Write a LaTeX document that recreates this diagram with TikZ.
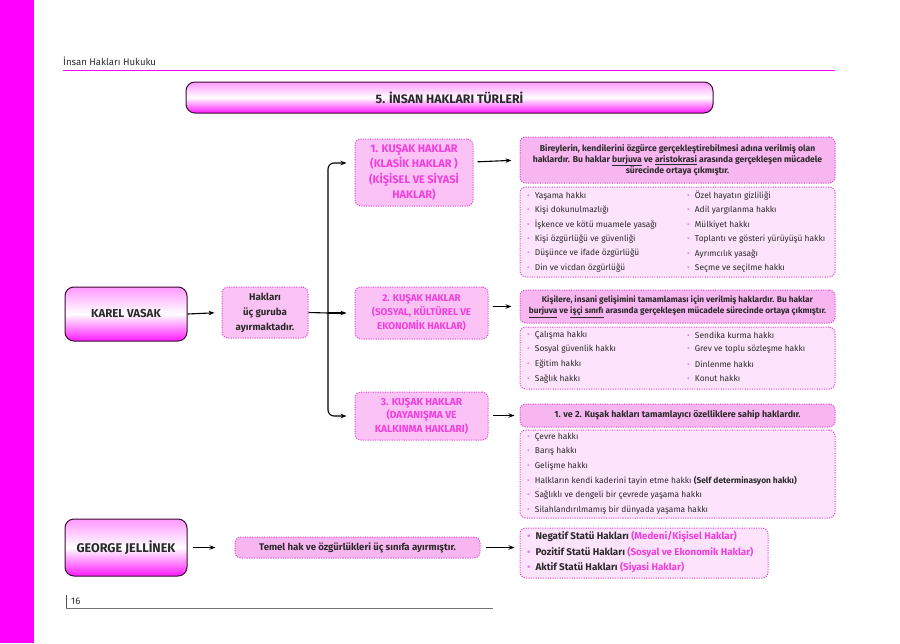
\documentclass[tikz,border=0pt]{standalone}
\usepackage{fontspec}
\setmainfont{Fira Sans}
\usetikzlibrary{arrows.meta}
\definecolor{mag}{HTML}{FF00FF}
\definecolor{kt}{HTML}{F23EDE}
\definecolor{dotc}{HTML}{E24AD4}
\definecolor{kfill}{HTML}{FBC3F5}
\definecolor{dfill}{HTML}{F8B6F0}
\definecolor{lfill}{HTML}{FDE3FB}
\definecolor{bulc}{HTML}{F27FE6}
\definecolor{txt}{HTML}{2A2A2A}
\definecolor{edge}{HTML}{3A0A30}
\newcommand\bul{\textcolor{bulc}{•}\hspace{5pt}}
\tikzset{
  dbox/.style={draw=dotc, dash pattern=on 1.1pt off 1.3pt, line width=1pt, rounded corners=6pt, inner sep=0pt, align=center},
  kbox/.style={dbox, fill=kfill, text=kt, font=\bfseries\fontsize{10}{14}\selectfont},
  descbox/.style={dbox, fill=dfill, text=txt, font=\bfseries\fontsize{8.2}{11}\selectfont},
  listbox/.style={dbox, fill=lfill},
  glossbox/.style={draw=edge, line width=1pt, rounded corners=9pt, inner sep=0pt, top color=mag!40, bottom color=mag!90, middle color=white, text=txt, align=center},
  item/.style={anchor=west, inner sep=0pt, text=txt, font=\fontsize{8.4}{9}\selectfont},
  sitem/.style={item, font=\bfseries\fontsize{9.8}{10}\selectfont},
  arr/.style={-{Stealth[length=6pt,width=4.5pt]}, line width=1.1pt, black},
}
\begin{document}
\begin{tikzpicture}[x=1pt,y=-1pt]
\useasboundingbox (0,0) rectangle (900,643);
\fill[white] (0,0) rectangle (900,643);
\fill[mag] (0,0) rectangle (34,643);
% header
\node[anchor=west, inner sep=0pt, text=txt, font=\fontsize{9.6}{10}\selectfont] (hdr) at (63,61) {İnsan Hakları Hukuku};
\draw[mag, line width=1pt] (63,70) -- (835,70);
% footer
\draw[black!70, line width=1pt] (66,595) -- (66,608);
\draw[black!55, line width=1pt] (66,608) -- (493,608);
\node[anchor=west, inner sep=0pt, text=txt, font=\fontsize{9.5}{10}\selectfont] (pg) at (71,601) {16};
% title
\node[glossbox, minimum width=527pt, minimum height=31pt, font=\bfseries\fontsize{12.3}{14}\selectfont] (title) at (449.5,97.5) {5. İNSAN HAKLARI TÜRLERİ};
% left boxes
\node[glossbox, minimum width=122pt, minimum height=54pt, font=\bfseries\fontsize{11.5}{14}\selectfont] (kv) at (126,314) {KAREL VASAK};
\node[glossbox, minimum width=122pt, minimum height=57pt, font=\bfseries\fontsize{12.6}{14}\selectfont] (gj) at (126,547.5) {GEORGE JELLİNEK};
\node[dbox, fill=kfill, text=txt, font=\bfseries\fontsize{9.7}{15}\selectfont, minimum width=86pt, minimum height=51pt] (hak) at (265,312.5) {Hakları\\üç guruba\\ayırmaktadır.};
% generations
\node[kbox, minimum width=118pt, minimum height=67pt, font=\bfseries\fontsize{11}{15.5}\selectfont] (k1) at (414,172.5) {1. KUŞAK HAKLAR\\(KLASİK HAKLAR )\\(KİŞİSEL VE SİYASİ\\HAKLAR)};
\node[kbox, minimum width=133pt, minimum height=52pt, font=\bfseries\fontsize{9.8}{14}\selectfont] (k2) at (421.5,313) {2. KUŞAK HAKLAR\\(SOSYAL, KÜLTÜREL VE\\EKONOMİK HAKLAR)};
\node[kbox, minimum width=133pt, minimum height=48pt, font=\bfseries\fontsize{10.2}{13.5}\selectfont] (k3) at (421.5,416) {3. KUŞAK HAKLAR\\(DAYANIŞMA VE\\KALKINMA HAKLARI)};
% descriptions
\node[descbox, minimum width=315pt, minimum height=46pt, font=\bfseries\fontsize{8.6}{11}\selectfont] (d1) at (677.5,160) {Bireylerin, kendilerini özgürce gerçekleştirebilmesi adına verilmiş olan\\haklardır. Bu haklar \underline{burjuva} ve \underline{aristokrasi} arasında gerçekleşen mücadele\\sürecinde ortaya çıkmıştır.};
\node[listbox, minimum width=315pt, minimum height=90pt] (l1) at (677.5,232) {};
\node[descbox, minimum width=315pt, minimum height=33pt, font=\bfseries\fontsize{8.3}{11.5}\selectfont] (d2) at (677.5,306.5) {Kişilere, insani gelişimini tamamlaması için verilmiş haklardır. Bu haklar\\\underline{burjuva} ve \underline{işçi sınıfı} arasında gerçekleşen mücadele sürecinde ortaya çıkmıştır.};
\node[listbox, minimum width=315pt, minimum height=62pt] (l2) at (677.5,358) {};
\node[descbox, minimum width=315pt, minimum height=23pt, font=\bfseries\fontsize{8.9}{11}\selectfont] (d3) at (677.5,415.5) {1. ve 2. Kuşak hakları tamamlayıcı özelliklere sahip haklardır.};
\node[listbox, minimum width=315pt, minimum height=88pt] (l3) at (677.5,474) {};
% jellinek
\node[descbox, minimum width=245pt, minimum height=21pt, font=\bfseries\fontsize{9.6}{11}\selectfont] (tm) at (357.5,547.5) {Temel hak ve özgürlükleri üç sınıfa ayırmıştır.};
\node[listbox, minimum width=248pt, minimum height=50pt] (st) at (644,553) {};
% list items
\foreach \t [count=\i from 0] in {Yaşama hakkı, Kişi dokunulmazlığı, İşkence ve kötü muamele yasağı, Kişi özgürlüğü ve güvenliği, Düşünce ve ifade özgürlüğü, Din ve vicdan özgürlüğü}
  \node[item] (l1a\i) at (527,196+14.4*\i) {\bul\t};
\foreach \t [count=\i from 0] in {Özel hayatın gizliliği, Adil yargılanma hakkı, Mülkiyet hakkı, Toplantı ve gösteri yürüyüşü hakkı, Ayrımcılık yasağı, Seçme ve seçilme hakkı}
  \node[item] (l1b\i) at (687,196+14.4*\i) {\bul\t};
\foreach \t [count=\i from 0] in {Çalışma hakkı, Sosyal güvenlik hakkı, Eğitim hakkı, Sağlık hakkı}
  \node[item] (l2a\i) at (527,335+14.6*\i) {\bul\t};
\foreach \t [count=\i from 0] in {Sendika kurma hakkı, Grev ve toplu sözleşme hakkı, Dinlenme hakkı, Konut hakkı}
  \node[item] (l2b\i) at (687,335+14.6*\i) {\bul\t};
\foreach \t [count=\i from 0] in {Çevre hakkı, Barış hakkı, Gelişme hakkı, {Halkların kendi kaderini tayin etme hakkı \textbf{(Self determinasyon hakkı)}}, Sağlıklı ve dengeli bir çevrede yaşama hakkı, Silahlandırılmamış bir dünyada yaşama hakkı}
  \node[item] (l3a\i) at (527,437+14.6*\i) {\bul\t};
\node[sitem] (st0) at (527,537) {\bul Negatif Statü Hakları \textcolor{kt}{(Medeni/Kişisel Haklar)}};
\node[sitem] (st1) at (527,552) {\bul Pozitif Statü Hakları \textcolor{kt}{(Sosyal ve Ekonomik Haklar)}};
\node[sitem] (st2) at (527,567) {\bul Aktif Statü Hakları \textcolor{kt}{(Siyasi Haklar)}};
% connectors
\coordinate (br) at (328,313);
\draw[arr, shorten >=7pt] (kv.east) -- (hak.west);
\draw[line width=1.1pt] (hak.east) -- (br);
\draw[arr, shorten >=8pt] (br) -- (k2.west);
\draw[arr, rounded corners=6pt, shorten >=8pt] (br) |- ([yshift=9.5pt]k1.west);
\draw[arr, rounded corners=6pt, shorten >=8pt] (br) |- (k3.west);
\draw[arr, shorten <=4pt, shorten >=8pt] ([yshift=10.5pt]k1.east) -- (d1.west);
\draw[arr, shorten <=4pt, shorten >=8pt] (k2.east |- d2.west) -- (d2.west);
\draw[arr, shorten <=4pt, shorten >=5pt] (k3.east |- d3.west) -- (d3.west);
\draw[arr, shorten <=5pt, shorten >=19pt] (gj.east) -- (tm.west);
\draw[arr, shorten <=5pt, shorten >=5pt] (tm.east) -- (tm.east -| st.west);
\end{tikzpicture}
\end{document}
